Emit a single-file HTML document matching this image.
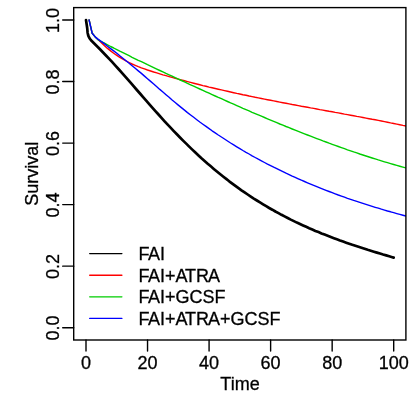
<!DOCTYPE html>
<html><head><meta charset="utf-8"><title>Survival</title>
<style>html,body{margin:0;padding:0;background:#fff;}body{width:415px;height:395px;position:relative;overflow:hidden;font-family:"Liberation Sans",sans-serif;}</style>
</head><body>
<svg width="415" height="395" viewBox="0 0 415 395" style="position:absolute;left:0;top:0;will-change:transform;transform:translateZ(0)">
<defs><clipPath id="c"><rect x="73.7" y="7.6" width="332.20" height="332.40"/></clipPath></defs>
<g clip-path="url(#c)" fill="none" stroke-linejoin="round">
<path d="M86.0,20.0 L86.6,24.0 L87.2,28.0 L87.6,32.7 L88.1,35.0 L88.7,36.7 L89.7,38.5 L91.0,40.2 L94.5,43.7 L98.0,47.2 L100.0,49.3 L103.1,52.5 L106.2,55.7 L109.2,58.9 L112.3,62.2 L115.4,65.6 L118.5,69.0 L121.5,72.4 L124.6,75.9 L127.7,79.4 L130.8,82.9 L133.8,86.4 L136.9,90.0 L140.0,93.5 L143.1,97.1 L146.2,100.6 L149.2,104.1 L152.3,107.6 L155.4,111.1 L158.5,114.5 L161.5,117.9 L164.6,121.3 L167.7,124.6 L170.8,127.9 L173.8,131.1 L176.9,134.3 L180.0,137.5 L183.1,140.6 L186.2,143.6 L189.2,146.6 L192.3,149.6 L195.4,152.5 L198.5,155.4 L201.5,158.2 L204.6,160.9 L207.7,163.7 L210.8,166.3 L213.8,168.9 L216.9,171.5 L220.0,174.0 L223.1,176.5 L226.2,178.9 L229.2,181.3 L232.3,183.6 L235.4,185.9 L238.5,188.1 L241.5,190.3 L244.6,192.4 L247.7,194.5 L250.8,196.6 L253.8,198.6 L256.9,200.5 L260.0,202.4 L263.1,204.3 L266.2,206.2 L269.2,208.0 L272.3,209.7 L275.4,211.5 L278.5,213.1 L281.5,214.8 L284.6,216.4 L287.7,218.0 L290.8,219.6 L293.9,221.1 L296.9,222.6 L300.0,224.0 L303.1,225.4 L306.2,226.8 L309.2,228.2 L312.3,229.5 L315.4,230.9 L318.5,232.1 L321.5,233.4 L324.6,234.6 L327.7,235.8 L330.8,237.0 L333.9,238.2 L336.9,239.3 L340.0,240.5 L343.1,241.6 L346.2,242.7 L349.2,243.7 L352.3,244.8 L355.4,245.8 L358.5,246.8 L361.5,247.8 L364.6,248.8 L367.7,249.8 L370.8,250.7 L373.9,251.7 L376.9,252.6 L380.0,253.5 L383.1,254.5 L386.2,255.4 L389.2,256.3 L392.3,257.2 L393.7,257.6" stroke="#000" stroke-width="2.7" stroke-linecap="round"/>
<path d="M89.1,20.0 L92.2,33.3 L95.2,36.9 L98.3,39.8 L101.4,42.8 L104.5,45.7 L107.5,48.4 L110.6,50.9 L113.7,53.2 L116.8,55.4 L119.8,57.4 L122.9,59.2 L126.0,60.9 L129.1,62.5 L132.1,64.0 L135.2,65.3 L138.3,66.6 L141.4,67.8 L144.5,68.9 L147.5,70.0 L150.6,71.0 L153.7,72.0 L156.8,72.9 L159.8,73.8 L162.9,74.8 L166.0,75.7 L169.1,76.6 L172.1,77.4 L175.2,78.3 L178.3,79.1 L181.4,80.0 L184.5,80.8 L187.5,81.6 L190.6,82.4 L193.7,83.2 L196.8,84.0 L199.8,84.8 L202.9,85.6 L206.0,86.3 L209.1,87.1 L212.1,87.8 L215.2,88.5 L218.3,89.2 L221.4,89.9 L224.5,90.6 L227.5,91.3 L230.6,92.0 L233.7,92.7 L236.8,93.4 L239.8,94.0 L242.9,94.7 L246.0,95.3 L249.1,96.0 L252.1,96.6 L255.2,97.3 L258.3,97.9 L261.4,98.5 L264.5,99.1 L267.5,99.7 L270.6,100.3 L273.7,100.9 L276.8,101.5 L279.8,102.1 L282.9,102.7 L286.0,103.3 L289.1,103.9 L292.2,104.5 L295.2,105.0 L298.3,105.6 L301.4,106.2 L304.5,106.7 L307.5,107.3 L310.6,107.9 L313.7,108.4 L316.8,109.0 L319.8,109.6 L322.9,110.1 L326.0,110.7 L329.1,111.3 L332.2,111.8 L335.2,112.4 L338.3,112.9 L341.4,113.5 L344.5,114.1 L347.5,114.6 L350.6,115.2 L353.7,115.8 L356.8,116.4 L359.8,116.9 L362.9,117.5 L366.0,118.1 L369.1,118.7 L372.2,119.3 L375.2,119.8 L378.3,120.4 L381.4,121.0 L384.5,121.6 L387.5,122.2 L390.6,122.9 L393.7,123.5 L396.8,124.1 L399.8,124.7 L402.9,125.4 L405.9,126.0" stroke="#ff0000" stroke-width="1.4" stroke-linecap="round"/>
<path d="M89.1,20.0 L92.2,33.3 L95.2,36.9 L98.3,39.9 L101.4,41.6 L104.5,43.2 L107.5,44.8 L110.6,46.5 L113.7,48.0 L116.8,49.6 L119.8,51.2 L122.9,52.7 L126.0,54.2 L129.1,55.7 L132.1,57.3 L135.2,58.8 L138.3,60.3 L141.4,61.7 L144.5,63.2 L147.5,64.7 L150.6,66.1 L153.7,67.6 L156.8,69.1 L159.8,70.5 L162.9,71.9 L166.0,73.4 L169.1,74.8 L172.1,76.2 L175.2,77.7 L178.3,79.1 L181.4,80.5 L184.5,81.9 L187.5,83.4 L190.6,84.8 L193.7,86.2 L196.8,87.6 L199.8,89.0 L202.9,90.4 L206.0,91.8 L209.1,93.2 L212.1,94.6 L215.2,96.0 L218.3,97.4 L221.4,98.7 L224.5,100.1 L227.5,101.5 L230.6,102.9 L233.7,104.2 L236.8,105.6 L239.8,106.9 L242.9,108.3 L246.0,109.6 L249.1,110.9 L252.1,112.3 L255.2,113.6 L258.3,114.9 L261.4,116.2 L264.5,117.5 L267.5,118.8 L270.6,120.1 L273.7,121.4 L276.8,122.7 L279.8,124.0 L282.9,125.2 L286.0,126.5 L289.1,127.7 L292.2,129.0 L295.2,130.2 L298.3,131.4 L301.4,132.6 L304.5,133.8 L307.5,135.0 L310.6,136.2 L313.7,137.4 L316.8,138.6 L319.8,139.7 L322.9,140.9 L326.0,142.0 L329.1,143.2 L332.2,144.3 L335.2,145.4 L338.3,146.5 L341.4,147.6 L344.5,148.7 L347.5,149.8 L350.6,150.8 L353.7,151.9 L356.8,152.9 L359.8,154.0 L362.9,155.0 L366.0,156.0 L369.1,157.0 L372.2,158.0 L375.2,158.9 L378.3,159.9 L381.4,160.8 L384.5,161.8 L387.5,162.7 L390.6,163.6 L393.7,164.5 L396.8,165.4 L399.8,166.2 L402.9,167.1 L405.9,167.9" stroke="#00cd00" stroke-width="1.4" stroke-linecap="round"/>
<path d="M89.1,20.0 L92.2,33.3 L95.2,36.9 L98.3,39.4 L101.4,41.6 L104.5,43.9 L107.5,46.2 L110.6,48.6 L113.7,50.9 L116.8,53.3 L119.8,55.8 L122.9,58.2 L126.0,60.7 L129.1,63.2 L132.1,65.7 L135.2,68.3 L138.3,70.9 L141.4,73.4 L144.5,76.1 L147.5,78.7 L150.6,81.4 L153.7,84.0 L156.8,86.7 L159.8,89.4 L162.9,92.0 L166.0,94.7 L169.1,97.3 L172.1,100.0 L175.2,102.5 L178.3,105.1 L181.4,107.6 L184.5,110.1 L187.5,112.6 L190.6,115.0 L193.7,117.3 L196.8,119.7 L199.8,122.0 L202.9,124.2 L206.0,126.4 L209.1,128.6 L212.1,130.8 L215.2,132.9 L218.3,135.0 L221.4,137.0 L224.5,139.0 L227.5,141.0 L230.6,143.0 L233.7,144.9 L236.8,146.8 L239.8,148.6 L242.9,150.5 L246.0,152.3 L249.1,154.0 L252.1,155.8 L255.2,157.5 L258.3,159.2 L261.4,160.8 L264.5,162.5 L267.5,164.1 L270.6,165.6 L273.7,167.2 L276.8,168.7 L279.8,170.2 L282.9,171.7 L286.0,173.2 L289.1,174.6 L292.2,176.1 L295.2,177.4 L298.3,178.8 L301.4,180.2 L304.5,181.5 L307.5,182.8 L310.6,184.1 L313.7,185.4 L316.8,186.7 L319.8,187.9 L322.9,189.1 L326.0,190.3 L329.1,191.5 L332.2,192.7 L335.2,193.8 L338.3,195.0 L341.4,196.1 L344.5,197.2 L347.5,198.3 L350.6,199.3 L353.7,200.4 L356.8,201.4 L359.8,202.4 L362.9,203.4 L366.0,204.4 L369.1,205.4 L372.2,206.4 L375.2,207.3 L378.3,208.2 L381.4,209.2 L384.5,210.1 L387.5,211.0 L390.6,211.8 L393.7,212.7 L396.8,213.6 L399.8,214.4 L402.9,215.2 L405.9,216.0" stroke="#0000ff" stroke-width="1.4" stroke-linecap="round"/>
</g>
<rect x="73.7" y="7.6" width="332.20" height="332.40" fill="none" stroke="#000" stroke-width="1.4"/>
<g stroke="#000" stroke-width="1.4" fill="none" stroke-linecap="round">
<line x1="86.00" y1="340.0" x2="86.00" y2="351.00"/>
<line x1="147.54" y1="340.0" x2="147.54" y2="351.00"/>
<line x1="209.08" y1="340.0" x2="209.08" y2="351.00"/>
<line x1="270.62" y1="340.0" x2="270.62" y2="351.00"/>
<line x1="332.16" y1="340.0" x2="332.16" y2="351.00"/>
<line x1="393.70" y1="340.0" x2="393.70" y2="351.00"/>
<line x1="73.7" y1="327.70" x2="62.70" y2="327.70"/>
<line x1="73.7" y1="266.16" x2="62.70" y2="266.16"/>
<line x1="73.7" y1="204.62" x2="62.70" y2="204.62"/>
<line x1="73.7" y1="143.08" x2="62.70" y2="143.08"/>
<line x1="73.7" y1="81.54" x2="62.70" y2="81.54"/>
<line x1="73.7" y1="20.00" x2="62.70" y2="20.00"/>
</g>
<line x1="89.7" y1="253.6" x2="121.9" y2="253.6" stroke="#000" stroke-width="1.35" stroke-linecap="round"/>
<line x1="89.7" y1="275.2" x2="121.9" y2="275.2" stroke="#ff0000" stroke-width="1.35" stroke-linecap="round"/>
<line x1="89.7" y1="296.8" x2="121.9" y2="296.8" stroke="#00cd00" stroke-width="1.35" stroke-linecap="round"/>
<line x1="89.7" y1="318.4" x2="121.9" y2="318.4" stroke="#0000ff" stroke-width="1.35" stroke-linecap="round"/>
<g font-family="Liberation Sans, sans-serif" font-size="18.0" fill="#000" stroke="#000" stroke-width="0.3">
<text x="86.00" y="368.8" text-anchor="middle">0</text>
<text x="147.54" y="368.8" text-anchor="middle">20</text>
<text x="209.08" y="368.8" text-anchor="middle">40</text>
<text x="270.62" y="368.8" text-anchor="middle">60</text>
<text x="332.16" y="368.8" text-anchor="middle">80</text>
<text x="393.70" y="368.8" text-anchor="middle">100</text>
<text transform="translate(59.2,328.10) rotate(-90)" text-anchor="middle">0.0</text>
<text transform="translate(59.2,266.56) rotate(-90)" text-anchor="middle">0.2</text>
<text transform="translate(59.2,205.02) rotate(-90)" text-anchor="middle">0.4</text>
<text transform="translate(59.2,143.48) rotate(-90)" text-anchor="middle">0.6</text>
<text transform="translate(59.2,81.94) rotate(-90)" text-anchor="middle">0.8</text>
<text transform="translate(59.2,20.40) rotate(-90)" text-anchor="middle">1.0</text>
<text x="240" y="390.3" text-anchor="middle">Time</text>
<text transform="translate(37.7,173.8) rotate(-90)" text-anchor="middle">Survival</text>
<text x="138.6" y="260.10" dx="0 -0.6">FAI</text>
<text x="138.6" y="281.70" dx="0 -0.6 0 0 0 -1.3 0 -1.0">FAI+ATRA</text>
<text x="138.6" y="303.30" dx="0 -0.6">FAI+GCSF</text>
<text x="138.6" y="324.90" dx="0 -0.6 0 0 0 -1.3 0 -1.0">FAI+ATRA+GCSF</text>
</g>
</svg>
</body></html>
